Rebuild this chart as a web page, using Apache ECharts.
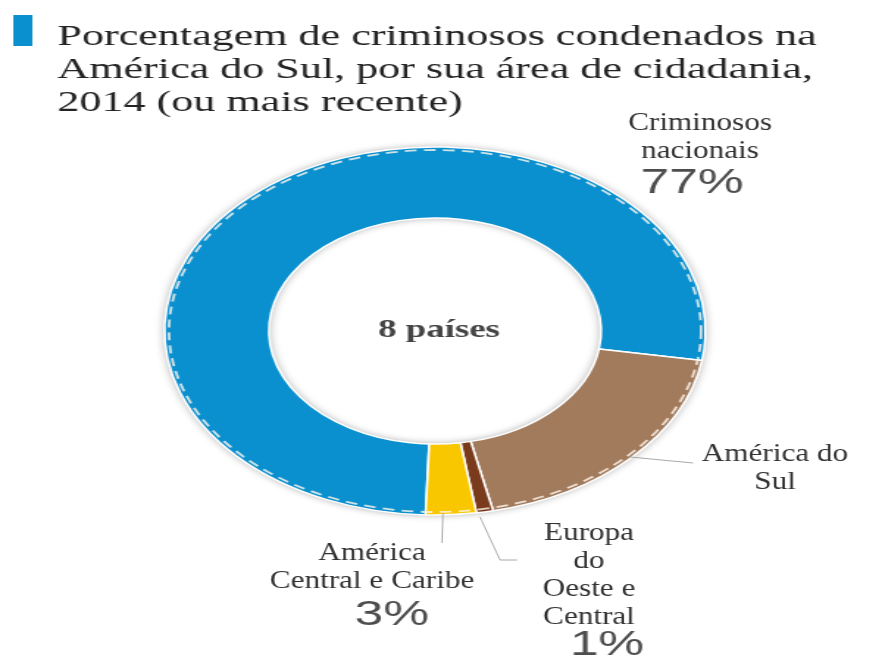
<!DOCTYPE html>
<html>
<head>
<meta charset="utf-8">
<script src="https://cdn.jsdelivr.net/npm/echarts@6/dist/echarts.min.js"></script>
<style>
  html, body { margin: 0; padding: 0; background: #fff; overflow: hidden; width: 877px; height: 659px; position: relative; }
  /* both layers are drawn narrow and widened horizontally */
  #ring  { position: absolute; left: 0; top: 0; width: 597px; height: 659px; transform: scaleX(1.47); transform-origin: 0 0; }
  #names { position: absolute; left: 0; top: 0; width: 731px; height: 659px; transform: scaleX(1.2); transform-origin: 0 0; pointer-events: none; }
</style>
</head>
<body>
<div id="ring"></div>
<div id="names"></div>
<script>
// Citizenship area of convicted offenders, South America
const categories = [
  'Criminosos\nnacionais',
  'América do\nSul',
  'Europa\ndo\nOeste e\nCentral',
  'América\nCentral e Caribe'
];
const shares = [77, 19, 1, 3];
const showShare = [true, false, true, true];
const titleLines = [
  'Porcentagem de criminosos condenados na',
  'América do Sul, por sua área de cidadania,',
  '2014 (ou mais recente)'
];
const centerNote = '8 países';

const SERIF = '"Liberation Serif", "Times New Roman", serif';
const SANS = '"Liberation Sans", Arial, sans-serif';
const palette = ['#0b90cf', '#a27b5d', '#7a3a1c', '#f9c700'];

// ---- ring layer (x stretched by 1.47) ----
const K1 = 1.47;
const CX = 435 / K1, CY = 331, R_IN = 113, R_OUT = 184;
const shareSpots = [
  { x: 692 / K1, y: 165 },
  null,
  { x: 607 / K1, y: 627 },
  { x: 392 / K1, y: 597 }
];

const ring = echarts.init(document.getElementById('ring'));
ring.setOption({
  animation: false,
  title: {
    text: titleLines.join('\n'),
    left: 34, top: 16,
    textStyle: { fontFamily: SERIF, fontSize: 30, lineHeight: 33, color: '#232323', fontWeight: 'normal' }
  },
  graphic: [
    { type: 'rect', shape: { x: 9, y: 15, width: 13, height: 31 }, style: { fill: '#0b90cf' } },
    {
      type: 'text', x: 439 / K1, y: 331, z: 100,
      style: { text: centerNote, textAlign: 'center', textVerticalAlign: 'middle',
               font: 'bold 25px "Liberation Serif"', fill: '#444' }
    },
    {
      type: 'circle', z: 100, silent: true,
      shape: { cx: CX, cy: CY, r: R_OUT - 3 },
      style: { fill: 'none', stroke: '#fff6ee', lineWidth: 1.8, lineDash: [8, 5], opacity: 0.8 }
    }
  ],
  series: [
    {
      // soft shadow ring under the donut
      type: 'pie', silent: true, z: 1,
      center: [CX, CY], radius: [R_IN, R_OUT],
      label: { show: false }, labelLine: { show: false },
      emphasis: { disabled: true },
      itemStyle: { color: '#fff', shadowBlur: 7, shadowColor: 'rgba(0,0,0,0.35)' },
      data: [{ value: 1, name: '' }]
    },
    {
      type: 'pie', z: 2,
      center: [CX, CY], radius: [R_IN, R_OUT],
      startAngle: -92, clockwise: true,
      color: palette,
      itemStyle: { borderColor: '#fff', borderWidth: 1.5 },
      emphasis: { disabled: true },
      label: {
        show: true, position: 'outside', overflow: 'none',
        formatter: p => p.value + '%',
        fontFamily: SANS, fontSize: 35, lineHeight: 36, color: '#4d4d4d'
      },
      labelLine: { show: false },
      labelLayout: params => {
        const s = shareSpots[params.dataIndex];
        return s ? { x: s.x, y: s.y, align: 'center', verticalAlign: 'top' } : {};
      },
      data: categories.map((name, i) => ({
        name, value: shares[i],
        label: { show: showShare[i] }
      }))
    }
  ]
});

// ---- name layer (x stretched by 1.2) ----
const K2 = 1.2;
const nameSpots = [
  { x: 700 / K2, y: 109, line: null },
  { x: 775 / K2, y: 440, line: [[630 / K2, 457], [693 / K2, 463]] },
  { x: 589 / K2, y: 519, line: [[480 / K2, 517], [500 / K2, 560], [517 / K2, 560]] },
  { x: 372 / K2, y: 539, line: [[443 / K2, 513], [442 / K2, 543]] }
];

const names = echarts.init(document.getElementById('names'));
names.setOption({
  animation: false,
  series: [{
    type: 'pie', silent: true,
    center: [435 / K2, CY], radius: [0, 1],
    startAngle: -92, clockwise: true,
    itemStyle: { color: 'rgba(0,0,0,0)' },
    emphasis: { disabled: true },
    label: {
      show: true, position: 'outside', overflow: 'none',
      formatter: p => p.name,
      fontFamily: SERIF, fontSize: 26, lineHeight: 28, color: '#333'
    },
    labelLine: { show: true, lineStyle: { color: '#a8a8a8', width: 1 } },
    labelLayout: params => {
      const s = nameSpots[params.dataIndex];
      const out = { x: s.x, y: s.y, align: 'center', verticalAlign: 'top' };
      if (s.line) out.labelLinePoints = s.line;
      return out;
    },
    data: categories.map((name, i) => ({
      name, value: shares[i],
      labelLine: { show: !!nameSpots[i].line }
    }))
  }]
});
</script>
</body>
</html>
